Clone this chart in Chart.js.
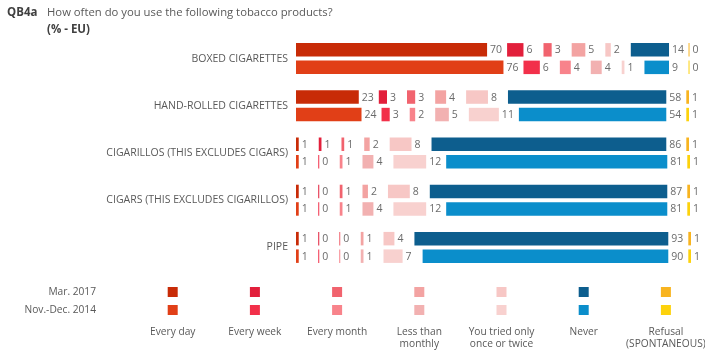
<!DOCTYPE html>
<html>
<head>
<meta charset="utf-8">
<script src="https://cdn.jsdelivr.net/npm/chart.js@4/dist/chart.umd.min.js"></script>
<style>
  html, body { margin: 0; padding: 0; background: #fff; }
  #chart { display: block; }
</style>
</head>
<body>
<canvas id="chart" width="705" height="351"></canvas>
<script>
const products = [
  "BOXED CIGARETTES",
  "HAND-ROLLED CIGARETTES",
  "CIGARILLOS (THIS EXCLUDES CIGARS)",
  "CIGARS (THIS EXCLUDES CIGARILLOS)",
  "PIPE"
];
const answers = [
  ["Every day"],
  ["Every week"],
  ["Every month"],
  ["Less than", "monthly"],
  ["You tried only", "once or twice"],
  ["Never"],
  ["Refusal", "(SPONTANEOUS)"]
];
const waves = ["Mar. 2017", "Nov.-Dec. 2014"];

// 2017 values, one array per answer
const everyDay2017 = [70, 23, 1, 1, 1];
const everyWeek2017 = [6, 3, 1, 0, 0];
const everyMonth2017 = [3, 3, 1, 1, 0];
const lessMonthly2017 = [5, 4, 2, 2, 1];
const tried2017 = [2, 8, 8, 8, 4];
const never2017 = [14, 58, 86, 87, 93];
const refusal2017 = [0, 1, 1, 1, 1];

// 2014 values
const everyDay2014 = [76, 24, 1, 1, 1];
const everyWeek2014 = [6, 3, 0, 0, 0];
const everyMonth2014 = [4, 2, 1, 1, 0];
const lessMonthly2014 = [4, 5, 4, 4, 1];
const tried2014 = [1, 11, 12, 12, 7];
const never2014 = [9, 54, 81, 81, 90];
const refusal2014 = [0, 1, 1, 1, 1];

const colors2017 = ["#c82b07", "#e21f3b", "#f1636e", "#f3a3a2", "#f7c7c5", "#0d5e8e", "#f8b420"];
const colors2014 = ["#e13f17", "#f2304a", "#f8838b", "#f2b1b1", "#f8d1cf", "#0b8ecb", "#fdd20c"];

const GAP = 7.33; // blank space after each segment for its label

const series = [
  [everyDay2017, everyWeek2017, everyMonth2017, lessMonthly2017, tried2017, never2017, refusal2017],
  [everyDay2014, everyWeek2014, everyMonth2014, lessMonthly2014, tried2014, never2014, refusal2014]
];
const palettes = [colors2017, colors2014];

const datasets = [];
series.forEach((wave, w) => {
  wave.forEach((vals, i) => {
    datasets.push({
      label: answers[i].join(" ") + " " + waves[w],
      data: vals,
      backgroundColor: palettes[w][i],
      stack: "w" + w,
      minBarLength: 1,
      showValue: true
    });
    if (i < wave.length - 1) {
      datasets.push({
        label: "gap",
        data: vals.map(() => GAP),
        backgroundColor: "rgba(0,0,0,0)",
        stack: "w" + w
      });
    }
  });
});

const valueLabels = {
  id: "valueLabels",
  afterDatasetsDraw(chart) {
    const ctx = chart.ctx;
    ctx.save();
    ctx.font = "10.5px 'Open Sans'";
    ctx.fillStyle = "#6b6b6b";
    ctx.textBaseline = "middle";
    ctx.textAlign = "left";
    chart.data.datasets.forEach((ds, di) => {
      if (!ds.showValue) return;
      chart.getDatasetMeta(di).data.forEach((bar, j) => {
        ctx.fillText(String(ds.data[j]), bar.x + 3, bar.y + 0.5);
      });
    });
    ctx.restore();
  }
};

const titleAndLegend = {
  id: "titleAndLegend",
  afterDraw(chart) {
    const ctx = chart.ctx;
    ctx.save();
    ctx.textBaseline = "middle";
    ctx.textAlign = "left";
    ctx.fillStyle = "#404040";
    ctx.font = "bold 11.5px 'Open Sans'";
    ctx.fillText("QB4a", 7, 13);
    ctx.fillText("(% - EU)", 47, 30);
    ctx.fillStyle = "#595959";
    ctx.font = "11.3px 'Open Sans'";
    ctx.fillText("How often do you use the following tobacco products?", 47, 13);

    // legend grid
    const rowsY = [292, 310];
    ctx.font = "10.2px 'Open Sans'";
    ctx.fillStyle = "#595959";
    ctx.textAlign = "right";
    waves.forEach((wv, w) => ctx.fillText(wv, 96, rowsY[w]));
    ctx.textAlign = "center";
    answers.forEach((lines, i) => {
      const cx = 172.7 + i * 82.2;
      palettes.forEach((pal, w) => {
        ctx.fillStyle = pal[i];
        ctx.fillRect(cx - 5, rowsY[w] - 5, 10, 10);
      });
      ctx.fillStyle = "#595959";
      lines.forEach((ln, k) => ctx.fillText(ln, cx, 332 + k * 12));
    });
    ctx.restore();
  }
};

new Chart(document.getElementById("chart"), {
  type: "bar",
  data: { labels: products, datasets },
  options: {
    indexAxis: "y",
    responsive: false,
    animation: false,
    categoryPercentage: 0.742,
    barPercentage: 0.77,
    layout: { padding: { left: 0, right: 5, top: 35, bottom: 80 } },
    plugins: { legend: { display: false }, tooltip: { enabled: false } },
    scales: {
      x: { display: false, stacked: true, min: 0, max: 148 },
      y: {
        stacked: true,
        grid: { display: false, drawTicks: false },
        border: { display: false },
        ticks: { color: "#595959", font: { family: "Open Sans", size: 10.5 }, padding: 8 },
        afterFit(scale) { scale.width = 296; }
      }
    }
  },
  plugins: [valueLabels, titleAndLegend]
});
</script>
</body>
</html>
